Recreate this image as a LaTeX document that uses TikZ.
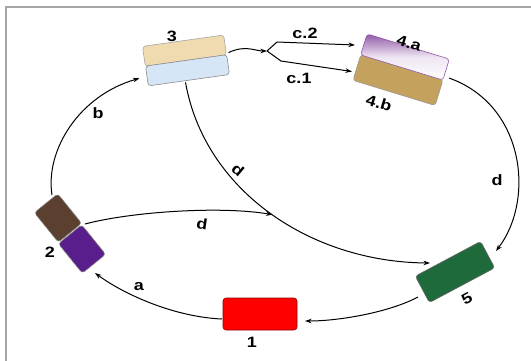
\documentclass[tikz,border=0pt]{standalone}
\usepackage{fontspec}
\setmainfont{Liberation Sans}[FakeStretch=1.2]
\usetikzlibrary{arrows.meta}
\definecolor{cbeige}{HTML}{F0DAB0}
\definecolor{cblue}{HTML}{D6E6F6}
\definecolor{cpur}{HTML}{9058A8}
\definecolor{ctan}{HTML}{C4A25E}
\definecolor{cbrn}{HTML}{5B4030}
\definecolor{cvio}{HTML}{5A1E8C}
\definecolor{cgrn}{HTML}{1F6A3A}
\definecolor{cred}{HTML}{FF0000}
\begin{document}
\begin{tikzpicture}[x=1pt,y=1pt,
  box/.style={rounded corners=3pt, inner sep=0pt, line width=0.6pt},
  lbl/.style={font=\bfseries\fontsize{15}{15}\selectfont, inner sep=0pt},
  conn/.style={line width=1pt, -{Stealth[length=6.5pt,width=4.5pt]}},
  plainln/.style={line width=1pt}]
\useasboundingbox (0,0) rectangle (531,-360);
\draw[gray!70, line width=1.5pt] (6,-7) rectangle (545,-375);

% node 3
\node[box, draw=black!35, fill=cbeige, rotate=8, minimum width=82pt, minimum height=20pt] (3a) at (184.5,-50.6) {};
\node[box, draw=black!45, fill=cblue, rotate=8, minimum width=82pt, minimum height=20pt] (3b) at (187.5,-70.3) {};
% node 4
\node[box, draw=black!40, fill=ctan, rotate=-17, minimum width=86pt, minimum height=27pt] (4b) at (398,-80) {};
\node[box, draw=cpur, top color=cpur, bottom color=white, middle color=white!85!cpur, rotate=-17, minimum width=86pt, minimum height=22pt] (4a) at (405,-57) {};
% node 2
\node[box, draw=black!50, fill=cbrn, rotate=-51, minimum width=38pt, minimum height=30pt] (2a) at (58,-218) {};
\node[box, draw=black!50, fill=cvio, rotate=-51, minimum width=38pt, minimum height=30pt] (2b) at (82,-249) {};
% node 1
\node[box, draw=red!60!black, fill=cred, minimum width=74pt, minimum height=32pt] (1) at (260,-314) {};
% node 5
\node[box, draw=black!60, fill=cgrn, rotate=28, minimum width=74pt, minimum height=30pt] (5) at (455,-272) {};

% connectors
\draw[conn] ([shift={(-38pt,-5pt)}]1.center) .. controls +(-47,2) and +(30,-22) .. ([shift={(13pt,-24pt)}]2b.center);
\draw[conn] ([shift={(-37pt,-25pt)}]5.center) .. controls +(-28,-15) and +(35,0) .. ([shift={(45pt,-7pt)}]1.center);
\draw[conn] ([shift={(-6pt,23pt)}]2a.center) .. controls +(-7,45) and +(-60,-17) .. ([shift={(-48pt,-8pt)}]3b.center);
\draw[conn] ([shift={(-2pt,-12pt)}]3b.center) .. controls +(19,-108) and +(-120,1) .. coordinate[pos=0.51] (dmeet) ([shift={(-25pt,9pt)}]5.center);
\draw[conn] ([shift={(27pt,-6pt)}]2a.center) .. controls +(45,12) and +(-53,9) .. (dmeet);
\draw[conn] ([shift={(44pt,-21pt)}]4a.center) .. controls +(76,-27) and +(39,51) .. ([shift={(41pt,21pt)}]5.center);
\coordinate (fork) at (267,-51);
\draw[conn] ([shift={(44pt,-2pt)}]3a.center) .. controls +(17,8) and +(-12,0) .. (fork);
\draw[conn] (fork) -- (277,-42) -- ([shift={(-50pt,12pt)}]4a.center);
\draw[conn] (fork) -- (281,-61) -- ([shift={(-46pt,8.5pt)}]4b.center);

% labels
\node[lbl] (t3) at (172,-36) {3};
\node[lbl] (tc2) at (305,-33) {c.2};
\node[lbl] (tc1) at (299,-78) {c.1};
\node[lbl, rotate=-17] (t4a) at (409,-43) {4.a};
\node[lbl, rotate=-17] (t4b) at (379,-103) {4.b};
\node[lbl] (t2) at (50,-252) {2};
\node[lbl] (t1) at (252,-342) {1};
\node[lbl, rotate=28] (t5) at (467,-299) {5};
\node[lbl] (ta) at (139,-287) {a};
\node[lbl] (tb) at (98,-113) {b};
\node[lbl, rotate=-40] (td1) at (238,-170) {d};
\node[lbl, rotate=-8] (td2) at (202,-224) {d};
\node[lbl] (td3) at (497,-180) {d};
\end{tikzpicture}
\end{document}
